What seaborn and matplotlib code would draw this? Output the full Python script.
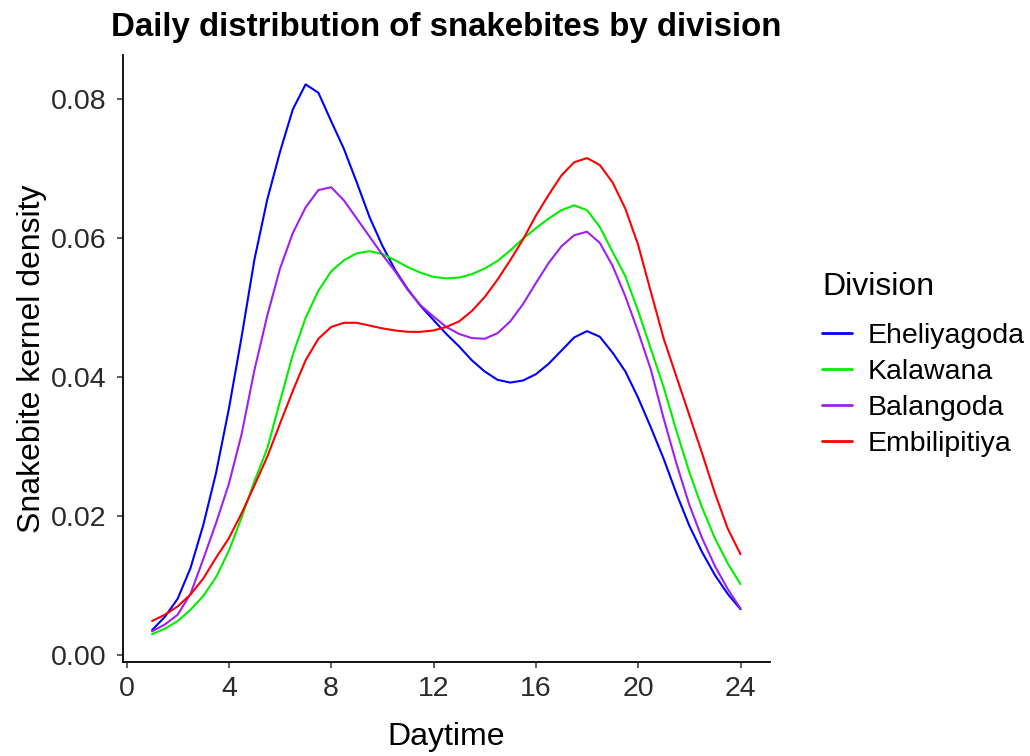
import matplotlib
matplotlib.use("Agg")
import matplotlib.pyplot as plt
import seaborn as sns
import pandas as pd

# ---- data (density at half-hour steps) ----
hours = [1.0, 1.5, 2.0, 2.5, 3.0, 3.5, 4.0, 4.5, 5.0, 5.5, 6.0, 6.5, 7.0, 7.5,
         8.0, 8.5, 9.0, 9.5, 10.0, 10.5, 11.0, 11.5, 12.0, 12.5, 13.0, 13.5,
         14.0, 14.5, 15.0, 15.5, 16.0, 16.5, 17.0, 17.5, 18.0, 18.5, 19.0,
         19.5, 20.0, 20.5, 21.0, 21.5, 22.0, 22.5, 23.0, 23.5, 24.0]

eheliyagoda = [0.0036, 0.0055, 0.0081, 0.0125, 0.0187, 0.0262, 0.0354, 0.0458,
               0.0569, 0.0655, 0.0724, 0.0785, 0.0821, 0.0809, 0.0768, 0.0728,
               0.0680, 0.0630, 0.0589, 0.0554, 0.0526, 0.0502, 0.0482, 0.0462,
               0.0444, 0.0424, 0.0408, 0.0396, 0.0392, 0.0395, 0.0404, 0.0419,
               0.0438, 0.0457, 0.0466, 0.0458, 0.0435, 0.0408, 0.0370, 0.0327,
               0.0282, 0.0232, 0.0186, 0.0148, 0.0115, 0.0088, 0.0066]

kalawana = [0.0030, 0.0038, 0.0049, 0.0065, 0.0085, 0.0112, 0.0150, 0.0198,
            0.0250, 0.0297, 0.0365, 0.0432, 0.0485, 0.0524, 0.0552, 0.0568,
            0.0578, 0.0581, 0.0577, 0.0568, 0.0558, 0.0550, 0.0544, 0.0542,
            0.0543, 0.0548, 0.0556, 0.0567, 0.0582, 0.0599, 0.0614, 0.0628,
            0.0640, 0.0647, 0.0640, 0.0616, 0.0580, 0.0545, 0.0495, 0.0440,
            0.0385, 0.0322, 0.0263, 0.0212, 0.0168, 0.0132, 0.0102]

balangoda = [0.0034, 0.0044, 0.0058, 0.0088, 0.0138, 0.0190, 0.0246, 0.0318,
             0.0410, 0.0488, 0.0556, 0.0607, 0.0644, 0.0669, 0.0673, 0.0654,
             0.0628, 0.0602, 0.0576, 0.0552, 0.0525, 0.0503, 0.0487, 0.0472,
             0.0462, 0.0456, 0.0455, 0.0463, 0.0480, 0.0505, 0.0535, 0.0564,
             0.0588, 0.0604, 0.0609, 0.0593, 0.0560, 0.0516, 0.0465, 0.0410,
             0.0340, 0.0275, 0.0216, 0.0168, 0.0128, 0.0095, 0.0067]

embilipitiya = [0.0049, 0.0058, 0.0070, 0.0087, 0.0110, 0.0140, 0.0168, 0.0204,
                0.0244, 0.0285, 0.0333, 0.0380, 0.0424, 0.0455, 0.0472, 0.0478,
                0.0478, 0.0474, 0.0470, 0.0467, 0.0465, 0.0465, 0.0467, 0.0472,
                0.0480, 0.0495, 0.0515, 0.0540, 0.0568, 0.0598, 0.0632, 0.0662,
                0.0690, 0.0709, 0.0715, 0.0705, 0.0680, 0.0642, 0.0590, 0.0522,
                0.0455, 0.0400, 0.0345, 0.0290, 0.0233, 0.0182, 0.0145]

divisions = ["Eheliyagoda", "Kalawana", "Balangoda", "Embilipitiya"]
colors = ["#0000FF", "#00EE00", "#A020F0", "#FF0000"]
x_ticks = [0, 4, 8, 12, 16, 20, 24]
y_ticks = [0.00, 0.02, 0.04, 0.06, 0.08]

series = [eheliyagoda, kalawana, balangoda, embilipitiya]
df = pd.concat(
    [pd.DataFrame({"Daytime": hours, "density": vals, "Division": name})
     for name, vals in zip(divisions, series)],
    ignore_index=True)

sns.set_theme(style="ticks")
plt.rcParams["font.family"] = ["Liberation Sans", "DejaVu Sans"]
plt.rcParams["lines.solid_joinstyle"] = "round"

fig = plt.figure(figsize=(10.3, 7.56), dpi=100)
ax = fig.add_axes([0.1191, 0.1247, 0.6284, 0.8023])

sns.lineplot(data=df, x="Daytime", y="density", hue="Division",
             hue_order=divisions, palette=dict(zip(divisions, colors)),
             estimator=None, linewidth=1.5, ax=ax)

ax.set_xlim(-0.15, 25.15)
ax.set_ylim(-0.00096, 0.0863)
ax.set_xticks(x_ticks)
ax.set_xticklabels([str(t) for t in x_ticks])
ax.set_yticks(y_ticks)
ax.set_yticklabels([f"{t:.2f}" for t in y_ticks])

for s in ["top", "right"]:
    ax.spines[s].set_visible(False)
for s in ["left", "bottom"]:
    ax.spines[s].set_linewidth(1.3)
    ax.spines[s].set_color("black")

ax.tick_params(axis="both", length=4.5, width=1.1, color="#333333",
               labelsize=20.5, labelcolor="#2a2a2a")
ax.tick_params(axis="y", pad=7.5)
ax.tick_params(axis="x", pad=5.5)

ax.set_xlabel("Daytime", fontsize=23, color="black", labelpad=15)
ax.set_ylabel("Snakebite kernel density", fontsize=23, color="black", labelpad=2.5)
ax.set_title("Daily distribution of snakebites by division",
             fontsize=23.8, fontweight="bold", color="black", pad=14)

leg = ax.legend(title="Division", loc="center left",
                bbox_to_anchor=(0.798, 0.518), bbox_transform=fig.transFigure,
                frameon=False, fontsize=20.5, title_fontsize=23,
                handlelength=1.05, handletextpad=0.55, labelspacing=0.35,
                borderpad=0, borderaxespad=0, alignment="left")
leg._legend_box.sep = 15
leg.get_title().set_color("black")
for t in leg.get_texts():
    t.set_color("black")
for line in leg.get_lines():
    line.set_linewidth(2.0)

fig.savefig("out.png", dpi=100, facecolor="white")
